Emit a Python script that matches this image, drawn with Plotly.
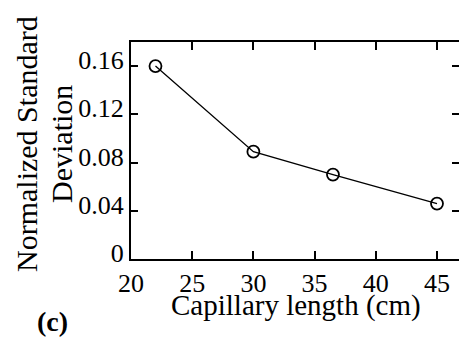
import plotly.graph_objects as go

capillary_length = [22, 30, 36.5, 45]
norm_std = [0.160, 0.089, 0.070, 0.046]
x_ticks = [20, 25, 30, 35, 40, 45]
y_ticks = [0, 0.04, 0.08, 0.12, 0.16]
y_tick_labels = ["0", "0.04", "0.08", "0.12", "0.16"]

FONT = "Liberation Serif"
L, T, W, H = 131, 42, 459, 340
PW, PH = W - L - 0, 259 - T

def px(xp):
    return (xp - L) / PW

def py(yp):
    return (259 - yp) / PH

fig = go.Figure()
fig.add_trace(go.Scatter(
    x=capillary_length, y=norm_std, mode="lines+markers",
    line=dict(color="black", width=1.3),
    marker=dict(symbol="circle-open", size=12, color="black", line=dict(width=1.8)),
    showlegend=False,
))
fig.add_trace(go.Scatter(x=[None], y=[None], yaxis="y2", showlegend=False))

fig.update_layout(
    width=W, height=H,
    margin=dict(l=L, r=0, t=T, b=H - 259),
    paper_bgcolor="white", plot_bgcolor="white",
    font=dict(family=FONT, color="black", size=26),
    xaxis=dict(range=[20, 20 + 25 * PW / 306], tickvals=x_ticks,
               ticks="inside", ticklen=8, tickwidth=2, tickcolor="black",
               showline=True, linecolor="black", linewidth=2, mirror="ticks",
               showgrid=False, zeroline=False,
               tickfont=dict(family=FONT, size=26)),
    yaxis=dict(range=[0, 0.18], tickvals=y_ticks, ticktext=y_tick_labels,
               ticks="inside", ticklen=7, tickwidth=2, tickcolor="black",
               showline=True, linecolor="black", linewidth=2, mirror=False,
               showgrid=False, zeroline=False, ticklabelshift=-6,
               tickfont=dict(family=FONT, size=26)),
    yaxis2=dict(range=[0, 0.18], tickvals=y_ticks, overlaying="y", side="right",
                ticks="inside", ticklen=7, tickwidth=2, tickcolor="black",
                showline=False, showgrid=False, zeroline=False, showticklabels=False),
)

ann = [
    dict(text="Normalized Standard", x=px(26), y=py(144), textangle=-90, size=30),
    dict(text="Deviation", x=px(61), y=py(144), textangle=-90, size=30),
    dict(text="Capillary length (cm)", x=px(296), y=py(305), textangle=0, size=29),
    dict(text="<b>(c)</b>", x=px(52), y=py(321), textangle=0, size=28),
]
for a in ann:
    fig.add_annotation(text=a["text"], x=a["x"], y=a["y"], xref="paper", yref="paper",
                       xanchor="center", yanchor="middle", textangle=a["textangle"],
                       showarrow=False, font=dict(family=FONT, size=a["size"], color="black"))

fig.write_html("out.html")
